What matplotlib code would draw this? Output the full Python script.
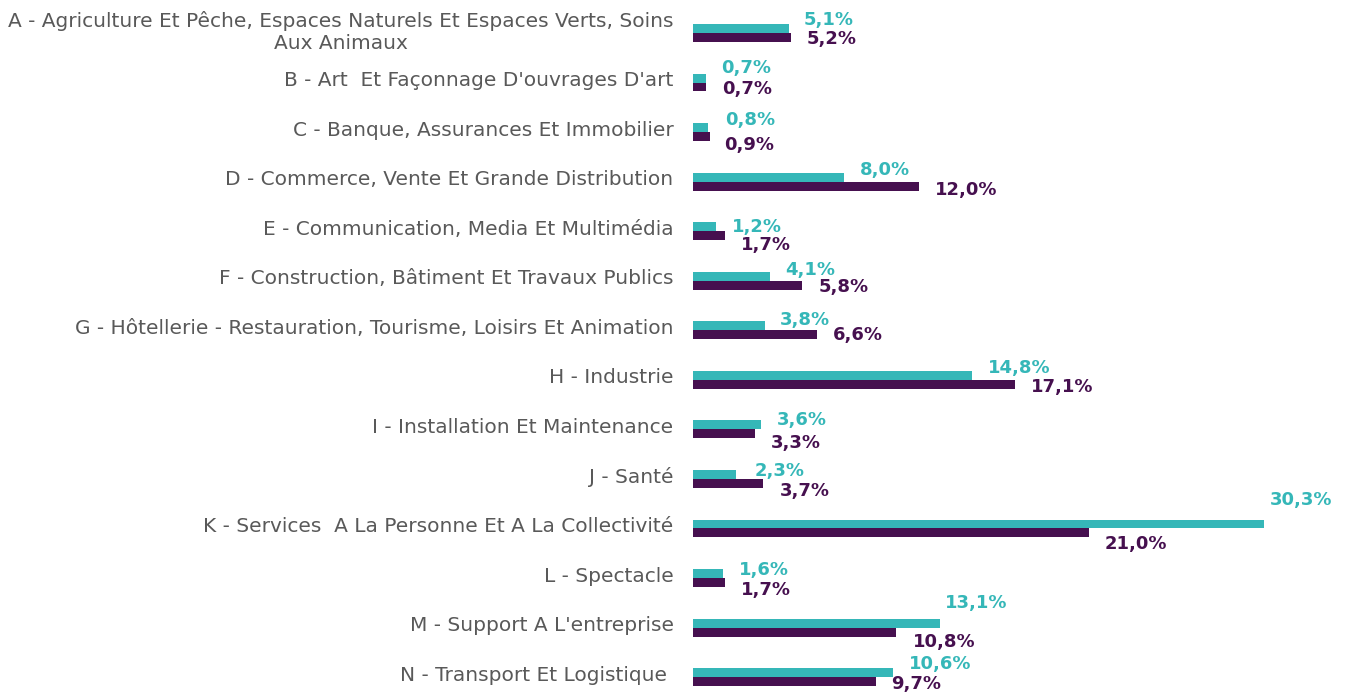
import numpy as np
import matplotlib
matplotlib.use("Agg")
import matplotlib.pyplot as plt
import matplotlib.transforms as mtransforms

categories = [
    "A - Agriculture Et Pêche, Espaces Naturels Et Espaces Verts, Soins\nAux Animaux",
    "B - Art  Et Façonnage D'ouvrages D'art",
    "C - Banque, Assurances Et Immobilier",
    "D - Commerce, Vente Et Grande Distribution",
    "E - Communication, Media Et Multimédia",
    "F - Construction, Bâtiment Et Travaux Publics",
    "G - Hôtellerie - Restauration, Tourisme, Loisirs Et Animation",
    "H - Industrie",
    "I - Installation Et Maintenance",
    "J - Santé",
    "K - Services  A La Personne Et A La Collectivité",
    "L - Spectacle",
    "M - Support A L'entreprise",
    "N - Transport Et Logistique ",
]
serie_1 = [5.1, 0.7, 0.8, 8.0, 1.2, 4.1, 3.8, 14.8, 3.6, 2.3, 30.3, 1.6, 13.1, 10.6]
serie_2 = [5.2, 0.7, 0.9, 12.0, 1.7, 5.8, 6.6, 17.1, 3.3, 3.7, 21.0, 1.7, 10.8, 9.7]

# label nudges in pixels (hand placed labels in the original)
dy_1 = [9, 10, 8, 7, 0, 6, 6, 7, 5, 3, 24, 4, 20, 9]
dy_2 = [-2, -2, -8, -4, -9, -2, 0, -3, -9, -8, -11, -8, -10, -2]
dx_1 = [15, 15, 17, 16, 16, 15, 15, 16, 16, 18, 6, 16, 5, 16]
dx_2 = [16, 16, 14, 16, 16, 16, 16, 16, 16, 17, 16, 16, 16, 15]

teal = "#35B7B8"
purple = "#46104F"
grey = "#595959"

fig = plt.figure(figsize=(13.46, 6.92), dpi=100)
ax = fig.add_axes([693 / 1346, 0, 1 - 693 / 1346, 1])

y = -np.arange(len(categories))
h = 0.18
ax.barh(y + h / 2, serie_1, height=h, color=teal)
ax.barh(y - h / 2, serie_2, height=h, color=purple)

for i in range(len(categories)):
    ax.annotate(f"{serie_1[i]:.1f}%".replace(".", ","), (serie_1[i], y[i] + h / 2),
                xytext=(dx_1[i], dy_1[i]), textcoords="offset pixels",
                ha="left", va="center", color=teal, fontsize=13, fontweight="bold")
    ax.annotate(f"{serie_2[i]:.1f}%".replace(".", ","), (serie_2[i], y[i] - h / 2),
                xytext=(dx_2[i], dy_2[i]), textcoords="offset pixels",
                ha="left", va="center", color=purple, fontsize=13, fontweight="bold")

ax.set_yticks(y)
ax.set_yticklabels(categories, fontsize=14.5, color=grey, ha="right", multialignment="center")
ax.tick_params(axis="y", length=0, pad=14)
shift = mtransforms.ScaledTranslation(0, 0.04, fig.dpi_scale_trans)
for lab in ax.get_yticklabels():
    lab.set_transform(lab.get_transform() + shift)
ax.set_xticks([])
ax.set_xlim(0, 653 / 18.84)
ax.set_ylim(-13.30, 0.666)
for s in ax.spines.values():
    s.set_visible(False)

fig.savefig("out.png", dpi=100)
